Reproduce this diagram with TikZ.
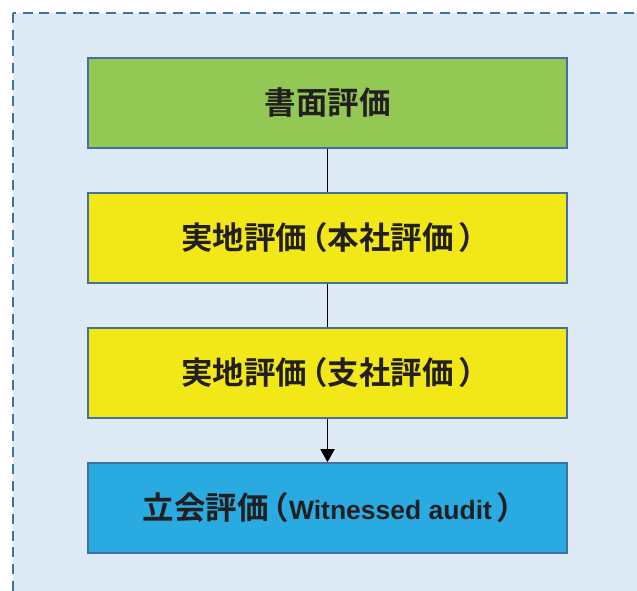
\documentclass[tikz,border=0pt]{standalone}
\usepackage{fontspec}
\newfontfamily\cjk{Noto Sans CJK JP}[BoldFont={* Bold}]
\newfontfamily\latn{Liberation Sans}
\usetikzlibrary{arrows.meta}
\definecolor{bgblue}{HTML}{DEEBF7}
\definecolor{edgeblue}{HTML}{41719C}
\definecolor{boxgreen}{HTML}{92C853}
\definecolor{boxyellow}{HTML}{F2E818}
\definecolor{boxblue}{HTML}{29ABE2}
\definecolor{txt}{HTML}{231F20}
\newcommand{\lpar}{\hspace{0.15em}{\addfontfeature{RawFeature=+halt}（}}
\newcommand{\rpar}{\hspace{0.15em}{\addfontfeature{RawFeature=+halt}）}}
\tikzset{
  stepbox/.style={draw=edgeblue, line width=1.6pt, minimum width=479pt, minimum height=90pt, inner sep=0pt, font=\cjk\bfseries\fontsize{31.5}{36}\selectfont, text=txt},
  conn/.style={line width=1.8pt, black}
}
\begin{document}
\begin{tikzpicture}[x=1pt,y=1pt]
\useasboundingbox (0,0) rectangle (637,590);
\clip (0,0) rectangle (637,590);
\draw[edgeblue, fill=bgblue, line width=2.2pt, dash pattern=on 10pt off 6.7pt] (13,577) rectangle (700,-40);
\node[stepbox, fill=boxgreen] (a) at (327.5,487) {書面評価};
\node[stepbox, fill=boxyellow] (b) at (327.5,352) {実地評価\lpar 本社評価\rpar};
\node[stepbox, fill=boxyellow] (c) at (327.5,217) {実地評価\lpar 支社評価\rpar};
\node[stepbox, fill=boxblue] (d) at (327.5,82) {立会評価\lpar{\latn\bfseries\fontsize{26.5}{30}\selectfont Witnessed audit}\rpar};
\draw[conn] (a) -- (b);
\draw[conn] (b) -- (c);
\draw[conn, -{Triangle[length=13pt, width=14pt]}] (c) -- (d);
\end{tikzpicture}
\end{document}
